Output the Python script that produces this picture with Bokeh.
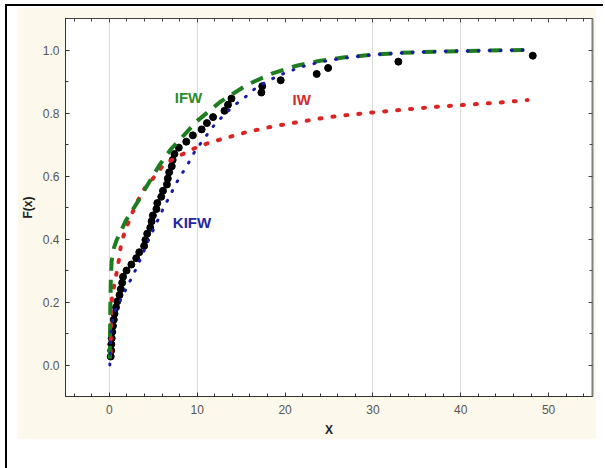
from bokeh.plotting import figure
from bokeh.models import LinearAxis, FixedTicker, PrintfTickFormatter, Range1d
from bokeh.layouts import column
from bokeh.core.properties import value
from bokeh.embed import file_html
from bokeh.resources import INLINE

# Empirical CDF points (black)
emp_x = [0.15, 0.20, 0.22, 0.26, 0.32, 0.40, 0.50, 0.58, 0.75, 0.90,
         1.15, 1.30, 1.45, 1.55, 1.95, 2.50, 3.05, 3.40, 3.95, 4.10,
         4.30, 4.65, 4.80, 4.95, 5.35, 5.45, 5.90, 6.10, 6.55, 6.65,
         6.80, 7.10, 7.20, 7.40, 7.90, 8.75, 9.50, 10.5, 11.1, 11.8,
         13.1, 13.5, 13.9, 17.3, 17.4, 19.5, 23.6, 24.9, 32.9, 48.2]
emp_y = [0.027, 0.046, 0.066, 0.085, 0.105, 0.124, 0.144, 0.163, 0.183, 0.202,
         0.222, 0.241, 0.261, 0.280, 0.300, 0.319, 0.339, 0.358, 0.378, 0.397,
         0.417, 0.436, 0.456, 0.475, 0.495, 0.514, 0.534, 0.553, 0.573, 0.592,
         0.612, 0.631, 0.651, 0.670, 0.690, 0.709, 0.729, 0.748, 0.768, 0.787,
         0.807, 0.826, 0.846, 0.865, 0.885, 0.904, 0.924, 0.943, 0.963, 0.982]

# IFW fitted CDF (green dashed)
ifw_x = [0.05, 0.07, 0.10, 0.15, 0.25, 0.50, 0.80, 1.9, 3.2, 4.3, 5.7, 7.0,
         8.5, 10.0, 12.6, 15.7, 18.5, 21.3, 24.0, 26.6, 29.6, 33.0, 37.6, 42.4, 48.0]
ifw_y = [0.02, 0.10, 0.18, 0.26, 0.33, 0.37, 0.395, 0.46, 0.517, 0.57, 0.635, 0.685,
         0.73, 0.775, 0.835, 0.89, 0.925, 0.95, 0.966, 0.976, 0.984, 0.991, 0.995, 0.998, 1.0]

# IW fitted CDF (red dotted)
iw_x = [0.15, 0.19, 0.27, 0.57, 0.87, 1.13, 1.32, 1.8, 3.0, 4.0, 5.1, 6.2, 8.1,
        9.6, 11.1, 12.65, 15.7, 18.7, 21.7, 24.7, 29.3, 36.8, 44.4, 47.6]
iw_y = [0.04, 0.13, 0.21, 0.257, 0.30, 0.342, 0.384, 0.427, 0.51, 0.56, 0.597, 0.637, 0.666,
        0.687, 0.703, 0.716, 0.74, 0.758, 0.772, 0.786, 0.80, 0.819, 0.833, 0.841]

# KIFW fitted CDF (blue dotted)
kifw_x = [0.05, 0.10, 0.20, 0.38, 0.76, 1.5, 2.08, 2.72, 3.33, 3.9, 4.42, 5.03, 5.66,
          6.23, 6.91, 7.55, 8.3, 9.06, 9.8, 10.76, 11.7, 12.85, 14.1, 15.4, 16.6, 17.9,
          19.1, 20.4, 21.7, 23.0, 24.3, 25.6, 28.0, 30.6, 34.0, 38.0, 43.0, 48.0]
kifw_y = [0.0, 0.045, 0.108, 0.146, 0.182, 0.218, 0.252, 0.287, 0.323, 0.36, 0.395, 0.431, 0.469,
          0.503, 0.538, 0.575, 0.609, 0.644, 0.682, 0.717, 0.754, 0.788, 0.822, 0.849, 0.878, 0.899,
          0.917, 0.931, 0.945, 0.955, 0.963, 0.97, 0.979, 0.986, 0.992, 0.996, 0.998, 1.0]

# Curve labels
label_text = ["IFW", "IW", "KIFW"]
label_x = [9.0, 21.9, 9.4]
label_y = [0.849, 0.842, 0.451]
label_color = ["#2e8b2e", "#d42a2a", "#2626a0"]

# Ticks
x_ticks = [0, 10, 20, 30, 40, 50]
x_minor = [-4, -2, 2, 4, 6, 8, 12, 14, 16, 18, 22, 24, 26, 28, 32, 34, 36, 38,
           42, 44, 46, 48, 52, 54]
x_grid = [0, 10, 30, 40]
y_ticks = [0.0, 0.2, 0.4, 0.6, 0.8, 1.0]
y_minor = [-0.1, 0.1, 0.3, 0.5, 0.7, 0.9, 1.1]

CREAM = "#fcf8ec"
FONT = "Liberation Sans"

p = figure(width=579, height=432, x_range=Range1d(-5, 55), y_range=Range1d(-0.1, 1.1),
           output_backend="svg", toolbar_location=None,
           min_border_left=47, min_border_right=4, min_border_top=11, min_border_bottom=43,
           background_fill_color="white", border_fill_color=CREAM,
           outline_line_color="#555555")

for ax in (p.xaxis[0], p.yaxis[0]):
    ax.axis_line_color = "#333333"
    ax.major_tick_line_color = "#333333"
    ax.minor_tick_line_color = "#333333"
    ax.major_tick_in = 4
    ax.major_tick_out = 0
    ax.minor_tick_in = 3
    ax.minor_tick_out = 0
    ax.major_label_text_font = FONT
    ax.major_label_text_font_size = "12px"
    ax.major_label_text_color = "#555555"
    ax.axis_label_text_font = FONT
    ax.axis_label_text_font_size = "12px"
    ax.axis_label_text_font_style = "bold"
    ax.axis_label_text_color = "#222222"

p.xaxis.ticker = FixedTicker(ticks=x_ticks, minor_ticks=x_minor)
p.yaxis.ticker = FixedTicker(ticks=y_ticks, minor_ticks=y_minor)
p.yaxis.formatter = PrintfTickFormatter(format="%.1f")
p.xaxis.axis_label = "X"
p.yaxis.axis_label = "F(x)"
p.xaxis.major_label_standoff = 8
p.yaxis.major_label_standoff = 6
p.xaxis.axis_label_standoff = 6
p.yaxis.axis_label_standoff = 5

# mirrored tick axes on top and right (labels not drawn)
top_ax = LinearAxis(ticker=FixedTicker(ticks=x_ticks, minor_ticks=x_minor),
                    major_label_text_font_size="1px", major_label_text_color=None,
                    major_label_standoff=0,
                    axis_line_color="#444444", major_tick_line_color="#444444",
                    minor_tick_line_color="#444444",
                    major_tick_in=4, major_tick_out=0, minor_tick_in=3, minor_tick_out=0)
right_ax = LinearAxis(ticker=FixedTicker(ticks=y_ticks, minor_ticks=y_minor),
                      major_label_text_font_size="1px", major_label_text_color=None,
                      major_label_standoff=0,
                      axis_line_color="#808080", axis_line_width=2,
                      major_tick_line_color="#444444", minor_tick_line_color="#444444",
                      major_tick_in=4, major_tick_out=0, minor_tick_in=3, minor_tick_out=0)
p.add_layout(top_ax, "above")
p.add_layout(right_ax, "right")

p.xgrid.ticker = FixedTicker(ticks=x_grid)
p.xgrid.grid_line_color = "#dcdcdc"
p.xgrid.grid_line_width = 1
p.ygrid.grid_line_color = None

p.scatter(emp_x, emp_y, size=7, color="black")
p.line(iw_x, iw_y, line_color="#dd2222", line_width=4, line_dash="2 11", line_cap="round")
p.line(ifw_x, ifw_y, line_color="#1e7d1e", line_width=4, line_dash="13 9")
p.line(kifw_x, kifw_y, line_color="#1a1aa6", line_width=3, line_dash="1 10", line_cap="round")

p.text(x=label_x, y=label_y, text=label_text, text_color=label_color,
       text_font=value(FONT), text_font_style="bold", text_font_size="15px",
       text_align="center", text_baseline="middle")

p.margin = (1, 7, 29, 10)
layout = column(p, margin=(4, 0, 0, 5),
                styles={"border-left": "2px solid black", "border-top": "2px solid black"})

open("out.html", "w").write(file_html(layout, INLINE))
